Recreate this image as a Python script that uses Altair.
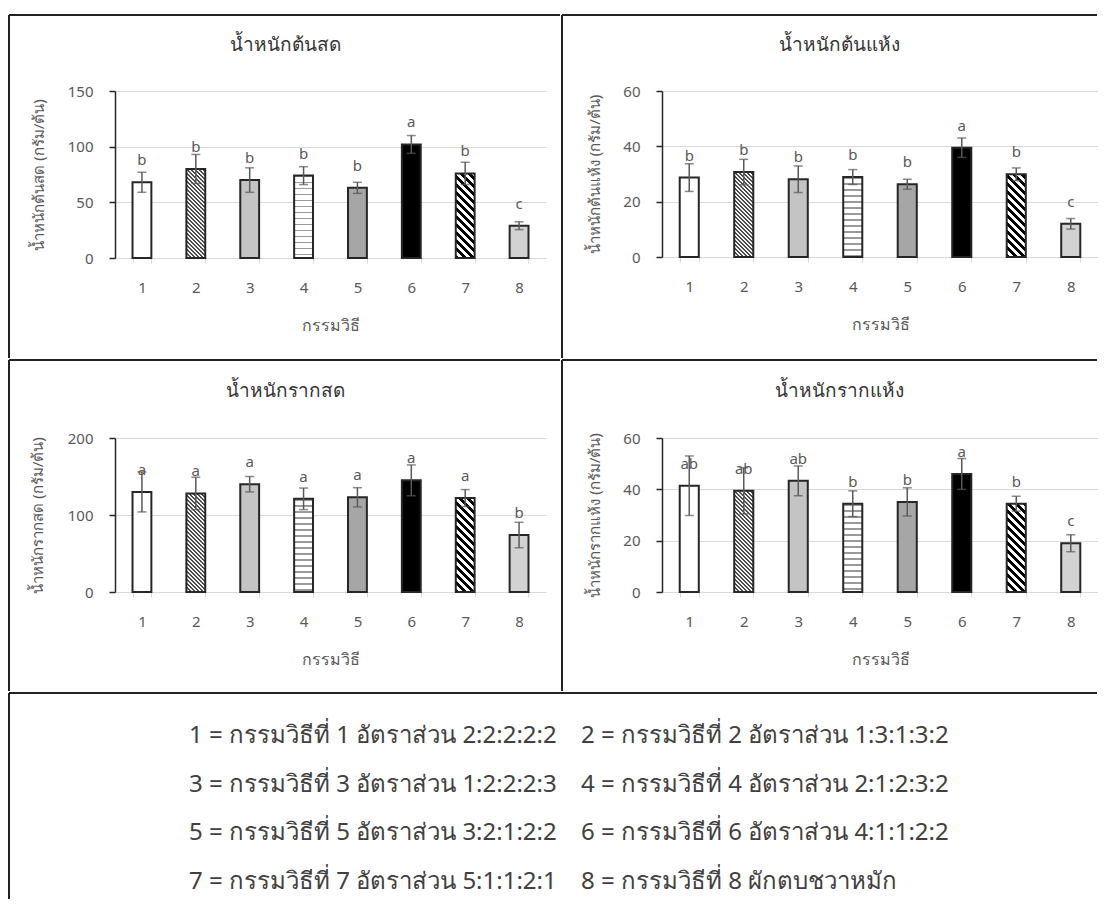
import altair as alt

# ---------------- data ----------------
treatments = ["1", "2", "3", "4", "5", "6", "7", "8"]

shoot_fresh_mean = [68, 80, 70, 74, 63, 102, 76, 29]
shoot_fresh_err = [9, 13, 11, 8, 5, 8, 10, 3.5]
shoot_fresh_letters = ["b", "b", "b", "b", "b", "a", "b", "c"]

shoot_dry_mean = [28.7, 30.7, 28.1, 28.9, 26.3, 39.5, 29.9, 12.0]
shoot_dry_err = [5.0, 4.6, 4.8, 2.7, 1.8, 3.5, 2.3, 1.9]
shoot_dry_letters = ["b", "b", "b", "b", "b", "a", "b", "c"]

root_fresh_mean = [130, 128, 140, 121, 123, 145, 122, 74]
root_fresh_err = [26, 21, 10, 14, 12.5, 20, 11, 16.5]
root_fresh_letters = ["a", "a", "a", "a", "a", "a", "a", "b"]

root_dry_mean = [41.4, 39.4, 43.3, 34.4, 35.1, 46.0, 34.4, 19.0]
root_dry_err = [11.6, 9.0, 5.8, 5.0, 5.5, 6.0, 2.9, 3.3]
root_dry_letters = ["ab", "ab", "ab", "b", "b", "a", "b", "c"]

panel_titles = ["น้ำหนักต้นสด", "น้ำหนักต้นแห้ง", "น้ำหนักรากสด", "น้ำหนักรากแห้ง"]
y_titles = ["น้ำหนักต้นสด (กรัม/ต้น)", "น้ำหนักต้นแห้ง (กรัม/ต้น)",
            "น้ำหนักรากสด (กรัม/ต้น)", "น้ำหนักรากแห้ง (กรัม/ต้น)"]
x_title = "กรรมวิธี"

legend_text = [
    "1 = กรรมวิธีที่ 1 อัตราส่วน 2:2:2:2:2", "2 = กรรมวิธีที่ 2 อัตราส่วน 1:3:1:3:2",
    "3 = กรรมวิธีที่ 3 อัตราส่วน 1:2:2:2:3", "4 = กรรมวิธีที่ 4 อัตราส่วน 2:1:2:3:2",
    "5 = กรรมวิธีที่ 5 อัตราส่วน 3:2:1:2:2", "6 = กรรมวิธีที่ 6 อัตราส่วน 4:1:1:2:2",
    "7 = กรรมวิธีที่ 7 อัตราส่วน 5:1:1:2:1", "8 = กรรมวิธีที่ 8 ผักตบชวาหมัก",
]
legend_row = [0, 0, 1, 1, 2, 2, 3, 3]
legend_col = [0, 1, 0, 1, 0, 1, 0, 1]

# ---------------- styles ----------------
FONT = "Noto Sans"
TXT = "#595959"
FRAME = "#222222"
PAD_INNER = 0.65

# fill style per treatment: (kind, line colour, background colour, period px, line fraction)
fill_styles = [
    ("solid", "#ffffff", None, 0, 0),
    ("diag", "#4a4a4a", "#f4f4f4", 4.0, 0.5),
    ("solid", "#c4c4c4", None, 0, 0),
    ("horiz", "#9a9a9a", "#ffffff", 6.0, 0.3),
    ("solid", "#a6a6a6", None, 0, 0),
    ("solid", "#000000", None, 0, 0),
    ("diag", "#000000", "#ffffff", 8.0, 0.45),
    ("solid", "#d2d2d2", None, 0, 0),
]


def stripe_stops(total, period, frac, c_line, c_bg):
    stops = []
    k = 0
    while k * period < total:
        a = k * period / total
        b = min((k * period + frac * period) / total, 1.0)
        c = min((k + 1) * period / total, 1.0)
        stops += [{"offset": round(a, 5), "color": c_line}, {"offset": round(b, 5), "color": c_line},
                  {"offset": round(b, 5), "color": c_bg}, {"offset": round(c, 5), "color": c_bg}]
        k += 1
    return stops


def make_fill(style, w, h):
    kind, c1, c2, period, frac = style
    if kind == "solid" or h <= 0:
        return c1
    if kind == "horiz":
        return {"gradient": "linear", "x1": 0, "y1": 0, "x2": 0, "y2": 1,
                "stops": stripe_stops(h, period, frac, c1, c2)}
    r = h / w
    lam = (1 + r) / (1 + r * r)
    return {"gradient": "linear", "x1": 0, "y1": 1, "x2": lam, "y2": 1 - r * lam,
            "stops": stripe_stops(w + h, period, frac, c1, c2)}


def panel(title, ytitle, means, errs, letters, ymax, ystep, W, H, geo):
    bar_w = W / len(treatments) * (1 - PAD_INNER)
    rows = []
    for i, t in enumerate(treatments):
        hpx = means[i] / ymax * H
        rows.append({
            "treat": t, "mean": means[i], "lo": means[i] - errs[i], "hi": means[i] + errs[i],
            "letter": letters[i], "grad": make_fill(fill_styles[i], bar_w, hpx),
        })
    data = alt.Data(values=rows)
    xenc = alt.X("treat:N", sort=treatments,
                 scale=alt.Scale(paddingInner=PAD_INNER, paddingOuter=PAD_INNER / 2),
                 axis=alt.Axis(labelAngle=0, title=x_title, titleY=67, titleBaseline="middle",
                               titleFontSize=16, titleFontWeight="normal", titleColor=TXT,
                               tickBand="extent", domainColor="#d9d9d9", tickColor="#d9d9d9",
                               tickSize=5, labelPadding=24, labelBaseline="middle",
                               labelFontSize=15, labelColor=TXT, grid=False))
    yscale = alt.Scale(domain=[0, ymax], nice=False)
    yaxis = alt.Axis(values=list(range(0, ymax + 1, ystep)), title=ytitle,
                     titleX=geo["ytx"], titleY=H / 2, titleAlign="center",
                     titleBaseline="middle", titleFontSize=15, titleFontWeight="normal",
                     titleColor=TXT, labelFontSize=15, labelColor=TXT, labelPadding=16,
                     tickSize=6, tickColor="#262626", tickWidth=1.5,
                     domainColor="#262626", domainWidth=1.5,
                     gridColor="#d9d9d9", gridWidth=1)
    base = alt.Chart(data)
    bars = base.mark_bar(stroke="#262626", strokeWidth=2).encode(
        x=xenc,
        y=alt.Y("mean:Q", scale=yscale, axis=yaxis),
        fill=alt.Fill("grad:N", scale=None, legend=None),
    )
    err = base.mark_rule(color="#595959", strokeWidth=1.5).encode(
        x=alt.X("treat:N", sort=treatments), y="lo:Q", y2="hi:Q")
    cap_hi = base.mark_tick(color="#595959", thickness=1.5, size=9).encode(
        x=alt.X("treat:N", sort=treatments), y="hi:Q")
    cap_lo = base.mark_tick(color="#595959", thickness=1.5, size=9).encode(
        x=alt.X("treat:N", sort=treatments), y="lo:Q")
    labels = base.mark_text(dy=-22, baseline="middle", fontSize=15, color=TXT, font=FONT).encode(
        x=alt.X("treat:N", sort=treatments), y="mean:Q", text="letter:N")

    one = alt.Data(values=[{"t": title}])
    ttl = alt.Chart(one).mark_text(fontSize=19, color="#333333", font=FONT,
                                   align="center", baseline="middle").encode(
        x=alt.value(geo["tx"]), y=alt.value(geo["ty"]), text="t:N")
    top = alt.Chart(one).mark_rule(color=FRAME, strokeWidth=2).encode(
        x=alt.value(geo["l"]), x2=alt.value(geo["r"] - 1), y=alt.value(geo["t"]))
    left = alt.Chart(one).mark_rule(color=FRAME, strokeWidth=2).encode(
        x=alt.value(geo["l"]), y=alt.value(geo["t"]), y2=alt.value(geo["b"]))
    ext_r = alt.Chart(one).mark_rule(color="#ffffff", strokeOpacity=0, strokeWidth=1).encode(
        x=alt.value(geo["r"]), y=alt.value(geo["t"]), y2=alt.value(geo["b"]))
    ext_b = alt.Chart(one).mark_rule(color="#ffffff", strokeOpacity=0, strokeWidth=1).encode(
        x=alt.value(geo["l"]), x2=alt.value(geo["r"]), y=alt.value(geo["b"]))
    return alt.layer(bars, err, cap_hi, cap_lo, labels, ttl, top, left, ext_r, ext_b
                     ).properties(width=W, height=H)


geo1 = dict(l=-106, r=446, t=-76, b=267, tx=170, ty=-46, ytx=-77)
geo2 = dict(l=-100, r=436, t=-76, b=267, tx=177, ty=-46, ytx=-68)
geo3 = dict(l=-106, r=446, t=-78, b=253, tx=170, ty=-47, ytx=-78)
geo4 = dict(l=-100, r=436, t=-78, b=253, tx=177, ty=-47, ytx=-68)

p1 = panel(panel_titles[0], y_titles[0], shoot_fresh_mean, shoot_fresh_err, shoot_fresh_letters, 150, 50, 431, 167, geo1)
p2 = panel(panel_titles[1], y_titles[1], shoot_dry_mean, shoot_dry_err, shoot_dry_letters, 60, 20, 436, 166, geo2)
p3 = panel(panel_titles[2], y_titles[2], root_fresh_mean, root_fresh_err, root_fresh_letters, 200, 50, 431, 154, geo3)
p4 = panel(panel_titles[3], y_titles[3], root_dry_mean, root_dry_err, root_dry_letters, 60, 20, 436, 154, geo4)

# ---------------- legend cell (origin aligned with the first panel's plot origin) ----------------
LX0, LW, LH = -106, 983, 206
leg_rows = [{"txt": legend_text[i], "row": legend_row[i], "col": legend_col[i]} for i in range(len(legend_text))]
leg_text = alt.Chart(alt.Data(values=leg_rows)).mark_text(
    align="left", baseline="middle", fontSize=24, color="#404040", font=FONT).encode(
    x=alt.X("col:Q", scale=alt.Scale(domain=[0, 1], range=[74, 466]), axis=None),
    y=alt.Y("row:Q", scale=alt.Scale(domain=[0, 3], range=[43, 189]), axis=None),
    text="txt:N")
one = alt.Data(values=[{"t": ""}])
leg_top = alt.Chart(one).mark_rule(color=FRAME, strokeWidth=2).encode(
    x=alt.value(LX0), x2=alt.value(LW - 1), y=alt.value(0))
leg_left = alt.Chart(one).mark_rule(color=FRAME, strokeWidth=2).encode(
    x=alt.value(LX0), y=alt.value(0), y2=alt.value(LH))
legend_cell = alt.layer(leg_text, leg_top, leg_left).properties(width=LW, height=LH)

chart = alt.vconcat(
    alt.hconcat(p1, p2, spacing=0),
    alt.hconcat(p3, p4, spacing=0),
    legend_cell,
    spacing=0,
).properties(
    padding={"left": 0, "top": 6, "right": 0, "bottom": 0}
).configure_view(stroke=None).configure_axis(
    labelFont=FONT, titleFont=FONT
).configure_text(font=FONT)

chart.save("out.html", embed_options={"renderer": "svg", "actions": False})
